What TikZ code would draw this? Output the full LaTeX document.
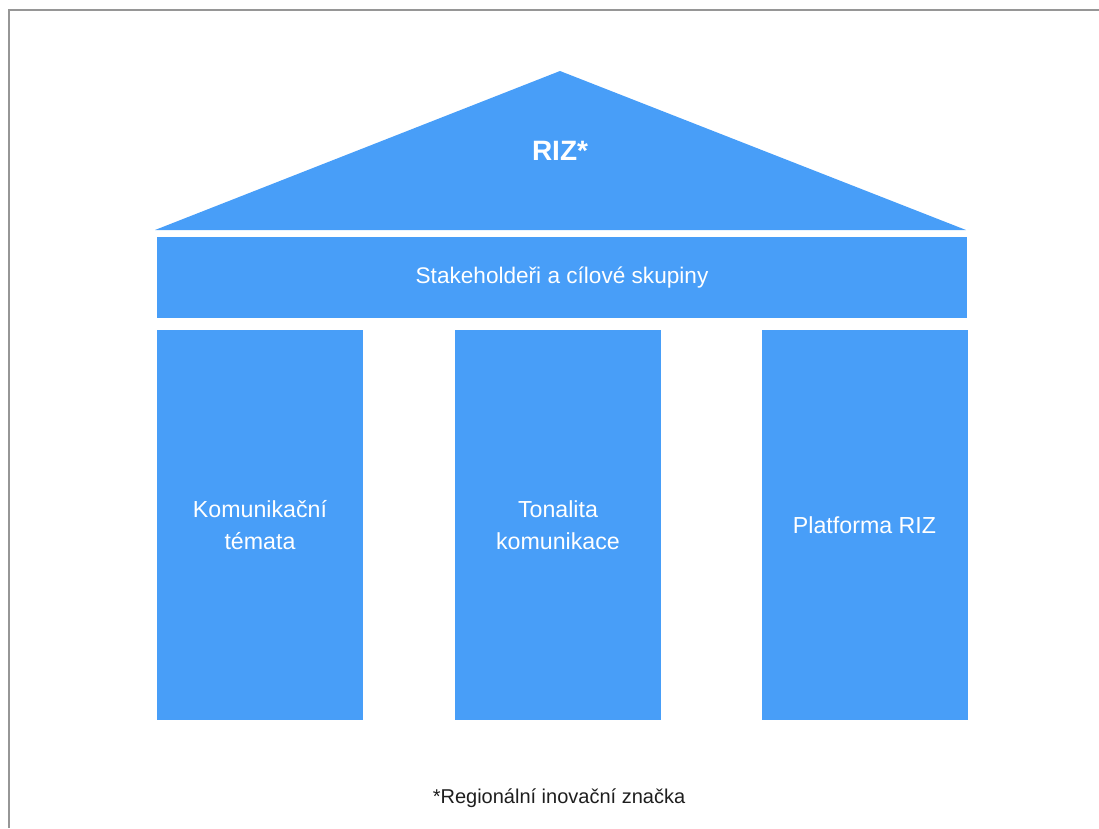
\documentclass[tikz,border=0pt]{standalone}
\usepackage{fontspec}
\setmainfont{Liberation Sans}
\usepackage{xcolor}
\usepackage{tikz}
\usetikzlibrary{positioning}
\definecolor{rizblue}{RGB}{72,158,248}
\definecolor{framegray}{RGB}{150,150,150}
\definecolor{notec}{RGB}{30,30,30}

\begin{document}
\begin{tikzpicture}[
  x=1pt, y=-1pt,
  block/.style={fill=rizblue, text=white, align=center, inner sep=0pt,
                font=\fontsize{22.6}{32}\selectfont},
  pillar/.style={block, minimum width=206pt, minimum height=390pt,
                 font=\fontsize{23.2}{32}\selectfont},
  frameline/.style={draw=framegray, line width=2pt}
]
  \useasboundingbox (0,0) rectangle (1099,828);
  \draw[frameline] (9,828) -- (9,10) -- (1099,10);
  % roof
  \coordinate (roofl) at (155,230);
  \coordinate (roofr) at (966,230);
  \coordinate (apex) at (560,71);
  \fill[rizblue] (roofl) -- (apex) -- (roofr) -- cycle;
  \node[text=white, font=\fontsize{28}{32}\selectfont\bfseries] (riz) at (560,151) {RIZ*};
  % band
  \node[block, minimum width=810pt, minimum height=81pt] (stake) at (562,277.5)
        {Stakeholdeři a cílové skupiny};
  % pillars
  \node[pillar] (temata) at (260,525) {Komunikační\\ témata};
  \node[pillar] (tonalita) at (558,525) {Tonalita\\ komunikace};
  \node[pillar] (platforma) at (864.5,525) {Platforma RIZ};
  \node[text=notec, font=\fontsize{20}{24}\selectfont] (note) at (559,798)
        {*Regionální inovační značka};
\end{tikzpicture}
\end{document}
